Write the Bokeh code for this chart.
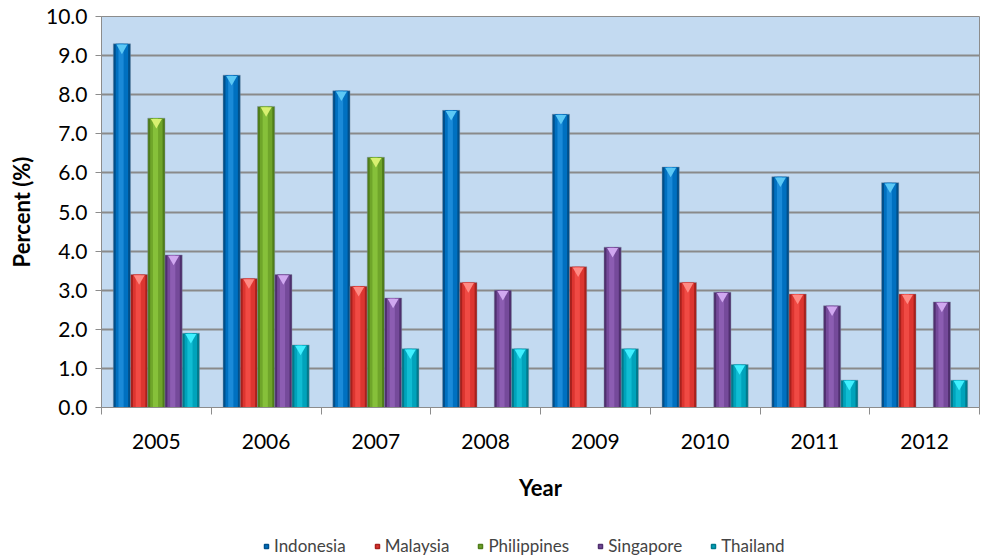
from bokeh.plotting import figure
from bokeh.layouts import column
from bokeh.models import ColumnDataSource, FixedTicker, Legend, LegendItem, Range1d
from bokeh.transform import dodge
from bokeh.embed import file_html
from bokeh.resources import INLINE

years = ["2005", "2006", "2007", "2008", "2009", "2010", "2011", "2012"]
countries = ["Indonesia", "Malaysia", "Philippines", "Singapore", "Thailand"]
indonesia = [9.3, 8.5, 8.1, 7.6, 7.5, 6.15, 5.9, 5.75]
malaysia = [3.4, 3.3, 3.1, 3.2, 3.6, 3.2, 2.9, 2.9]
philippines = [7.4, 7.7, 6.4, 0.0, 0.0, 0.0, 0.0, 0.0]
singapore = [3.9, 3.4, 2.8, 3.0, 4.1, 2.95, 2.6, 2.7]
thailand = [1.9, 1.6, 1.5, 1.5, 1.5, 1.1, 0.7, 0.7]
y_ticks = [0, 1, 2, 3, 4, 5, 6, 7, 8, 9, 10]

series = [indonesia, malaysia, philippines, singapore, thailand]
# (edge, body, highlight, cap)
palette = [
    ("#004f8a", "#0070c0", "#1a8ad8", "#5cc8f5"),
    ("#a8201c", "#dc3530", "#f04a44", "#ff8a84"),
    ("#4f7d1a", "#6fa52a", "#86c03a", "#d8f070"),
    ("#4f2f6e", "#754a9a", "#8c5db2", "#d0a8f0"),
    ("#007a8c", "#00a3bb", "#10bcd2", "#40f0ff"),
]

FONT = "Lato"
xc = [i + 0.5 for i in range(len(years))]
src = ColumnDataSource(dict(x=xc, **{c: s for c, s in zip(countries, series)}))

p = figure(width=980, height=509, output_backend="svg", toolbar_location=None,
           x_range=Range1d(0, len(years)), y_range=Range1d(0, 10),
           min_border_left=101, min_border_right=1, min_border_top=16, min_border_bottom=102,
           frame_width=878, frame_height=391)
p.background_fill_color = "#c3daf1"
p.border_fill_color = "white"
p.outline_line_color = "#8c8c8c"
p.outline_line_width = 1

p.xgrid.visible = False
p.ygrid.grid_line_color = "#8a8a8a"
p.ygrid.grid_line_width = 2
p.ygrid.ticker = FixedTicker(ticks=y_ticks)

bw = 0.157
for k, (c, cols) in enumerate(zip(countries, palette)):
    off = (k - 2) * bw
    edge, body, hi, cap = cols
    p.vbar(x=dodge("x", off, range=p.x_range), top=c, bottom=0, width=bw, source=src,
           fill_color=edge, line_color="#7f8fa0", line_width=0.6, line_alpha=0.7)
    p.vbar(x=dodge("x", off, range=p.x_range), top=c, bottom=0, width=bw * 0.72, source=src,
           fill_color=body, line_color=None)
    p.vbar(x=dodge("x", off - bw * 0.05, range=p.x_range), top=c, bottom=0, width=bw * 0.3,
           source=src, fill_color=hi, line_color=None)
    p.scatter(x=dodge("x", off, range=p.x_range), y=dodge(c, -0.1, range=p.y_range),
              marker="inverted_triangle", size=11, source=src,
              fill_color=cap, line_color=None)

p.yaxis.ticker = FixedTicker(ticks=y_ticks)
p.yaxis.major_label_overrides = {t: f"{t:.1f}" for t in y_ticks}
p.yaxis.axis_label = "Percent (%)"
p.yaxis.axis_label_text_font = FONT
p.yaxis.axis_label_text_font_style = "bold"
p.yaxis.axis_label_text_font_size = "22px"
p.yaxis.axis_label_text_color = "black"
p.yaxis.axis_label_standoff = 8
p.yaxis.major_label_text_font = FONT
p.yaxis.major_label_text_font_size = "21px"
p.yaxis.major_label_text_color = "black"
p.yaxis.major_tick_out = 6
p.yaxis.major_tick_in = 0
p.yaxis.minor_tick_out = 0
p.yaxis.minor_tick_in = 0
p.yaxis.axis_line_color = "#8c8c8c"
p.yaxis.major_tick_line_color = "#8c8c8c"
p.yaxis.major_label_standoff = 8

p.xaxis.ticker = FixedTicker(ticks=xc, minor_ticks=list(range(len(years) + 1)))
p.xaxis.major_label_overrides = {x: y for x, y in zip(xc, years)}
p.xaxis.major_tick_out = 0
p.xaxis.major_tick_in = 0
p.xaxis.minor_tick_out = 7
p.xaxis.minor_tick_in = 0
p.xaxis.minor_tick_line_color = "#8c8c8c"
p.xaxis.axis_line_color = "#8c8c8c"
p.xaxis.major_label_text_font = FONT
p.xaxis.major_label_text_font_size = "21px"
p.xaxis.major_label_text_color = "black"
p.xaxis.major_label_standoff = 19
p.xaxis.axis_label = "Year"
p.xaxis.axis_label_text_font = FONT
p.xaxis.axis_label_text_font_style = "bold"
p.xaxis.axis_label_text_font_size = "22px"
p.xaxis.axis_label_text_color = "black"
p.xaxis.axis_label_standoff = 22

# legend strip below the chart
lg = figure(width=980, height=49, output_backend="svg", toolbar_location=None,
            x_range=Range1d(0, 1), y_range=Range1d(0, 1),
            min_border_left=0, min_border_right=0, min_border_top=0, min_border_bottom=0)
lg.axis.visible = False
lg.grid.visible = False
lg.outline_line_color = None
legend_items = []
for c, cols in zip(countries, palette):
    edge, body, hi, cap = cols
    r = lg.scatter(x=dodge("x", -100, range=lg.x_range), y=c, marker="square", size=10,
                   source=src, fill_color=body, line_color=edge, line_width=1.5)
    legend_items.append(LegendItem(label=c, renderers=[r]))
legend = Legend(items=legend_items, orientation="horizontal", location=(160, 2),
                glyph_width=10, glyph_height=10, label_standoff=3, spacing=26,
                label_text_font=FONT, label_text_font_size="17px",
                background_fill_alpha=0, border_line_color=None, padding=2, margin=0)
lg.add_layout(legend, "center")

open("out.html", "w").write(file_html(column(p, lg, spacing=0), INLINE))
